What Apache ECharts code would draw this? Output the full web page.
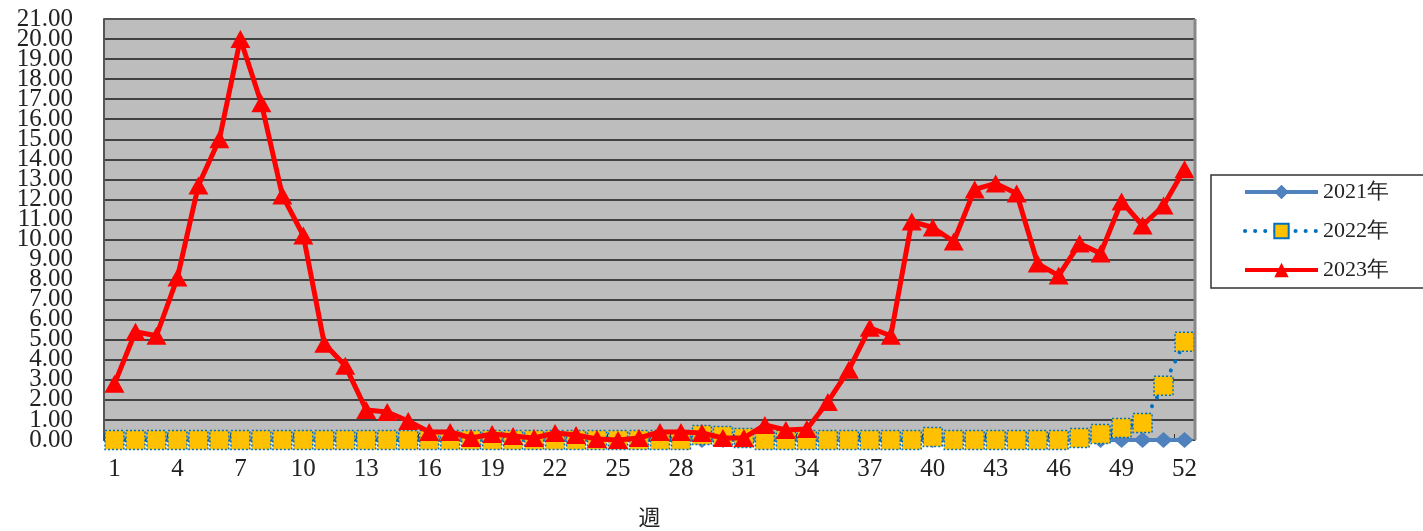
<!DOCTYPE html>
<html><head><meta charset="utf-8">
<script src="https://cdn.jsdelivr.net/npm/echarts@6/dist/echarts.min.js"></script>
<style>html,body{margin:0;padding:0;background:#fff}#c{width:1423px;height:531px}</style>
</head><body><div id="c"></div>
<script>
const weeks = Array.from({length: 52}, (_, i) => String(i + 1));
const seriesNames = ['2021年', '2022年', '2023年'];
const y2021 = [0,0,0,0,0,0,0,0,0,0,0,0,0,0,0,0,0,0,0,0,0,0,0,0,0,0,0,0,0,0,0,0,0,0,0,0,0,0,0,0,0,0,0,0,0,0,0,0,0,0,0,0];
const y2022 = [0,0,0,0,0,0,0,0,0,0,0,0,0,0,0,0,0,0,0,0,0,0,0,0,0,0,0,0,0.25,0.2,0.1,0,0,0,0,0,0,0,0,0.15,0,0,0,0,0,0,0.1,0.3,0.6,0.85,2.7,4.9];
const y2023 = [2.8,5.4,5.2,8.1,12.7,15.0,20.0,16.8,12.2,10.2,4.8,3.7,1.5,1.4,0.95,0.4,0.4,0.1,0.3,0.2,0.1,0.35,0.25,0.05,0.0,0.1,0.4,0.4,0.35,0.1,0.1,0.75,0.5,0.55,1.9,3.5,5.6,5.2,10.9,10.6,9.9,12.5,12.8,12.3,8.8,8.2,9.8,9.3,11.9,10.7,11.7,13.5];
const yMin = 0, yMax = 21, yStep = 1;

const serif = '"Liberation Serif", "DejaVu Serif", serif';
const yLabelStyle = {fontFamily: serif, fontSize: 25, color: '#222', margin: 31};
const chart = echarts.init(document.getElementById('c'), null, {renderer: 'canvas'});
chart.setOption({
  animation: false,
  backgroundColor: '#ffffff',
  grid: {left: 104, right: 228, top: 19, bottom: 91, show: true, backgroundColor: '#BDBDBD', borderWidth: 0,
         containLabel: false, outerBoundsMode: 'none'},
  legend: {
    orient: 'vertical', left: 1211, top: 175,
    data: seriesNames,
    itemWidth: 73, itemHeight: 18, itemGap: 17,
    padding: [6, 40, 7, 32],
    borderColor: '#333', borderWidth: 1.5, backgroundColor: '#fff',
    lineStyle: {width: 4},
    textStyle: {fontFamily: serif, fontSize: 22, color: '#222'}
  },
  xAxis: {
    type: 'category', data: weeks, boundaryGap: true,
    name: '週', nameLocation: 'middle', nameGap: 66,
    nameTextStyle: {fontFamily: '"Noto Sans CJK JP", sans-serif', fontSize: 22, color: '#222'},
    axisLine: {show: true, lineStyle: {color: '#333', width: 1.5}},
    axisTick: {show: true, inside: true, length: 6, lineStyle: {color: '#333'}},
    axisLabel: {interval: 2, fontFamily: serif, fontSize: 25, color: '#222', margin: 17},
    splitLine: {show: false}
  },
  yAxis: [
    {
      type: 'value', min: yMin, max: yMax, interval: yStep, position: 'left',
      axisLine: {show: true, lineStyle: {color: '#555', width: 2}},
      axisTick: {show: false},
      axisLabel: Object.assign({showMinLabel: true, showMaxLabel: true, formatter: v => v.toFixed(2)}, yLabelStyle),
      splitLine: {show: true, lineStyle: {color: '#1a1a1a', width: 1.5}}
    },
    {
      type: 'value', min: yMin, max: yMax, interval: yStep, position: 'left', offset: 0,
      axisLine: {show: false}, axisTick: {show: false}, splitLine: {show: false},
      axisLabel: Object.assign({showMinLabel: false, showMaxLabel: false,
        formatter: v => (v === yMin + yStep || v === yMax - yStep) ? v.toFixed(2) : ''}, yLabelStyle)
    }
  ],
  series: [
    {name: seriesNames[0], type: 'line', data: y2021, symbol: 'diamond', symbolSize: [18, 16], showAllSymbol: true,
     lineStyle: {color: '#4F81BD', width: 4}, itemStyle: {color: '#4F81BD'}, z: 2},
    {name: seriesNames[1], type: 'line', data: y2022, symbol: 'rect', symbolSize: 19, showAllSymbol: true,
     lineStyle: {color: '#0070C0', width: 4, type: [0.1, 10], cap: 'round'},
     itemStyle: {color: '#FFC000', borderColor: '#0070C0', borderWidth: 1.5, borderType: [2, 2]}, z: 3},
    {name: seriesNames[2], type: 'line', data: y2023, symbol: 'triangle', symbolSize: [20, 18], showAllSymbol: true,
     lineStyle: {color: '#FF0000', width: 5}, itemStyle: {color: '#FF0000'}, z: 4}
  ],
  graphic: [
    {type: 'line', shape: {x1: 104, y1: 19, x2: 1195, y2: 19}, style: {stroke: '#555', lineWidth: 2}, z: 10},
    {type: 'line', shape: {x1: 1195, y1: 19, x2: 1195, y2: 440}, style: {stroke: '#888', lineWidth: 3}, z: 10}
  ]
});
</script></body></html>
